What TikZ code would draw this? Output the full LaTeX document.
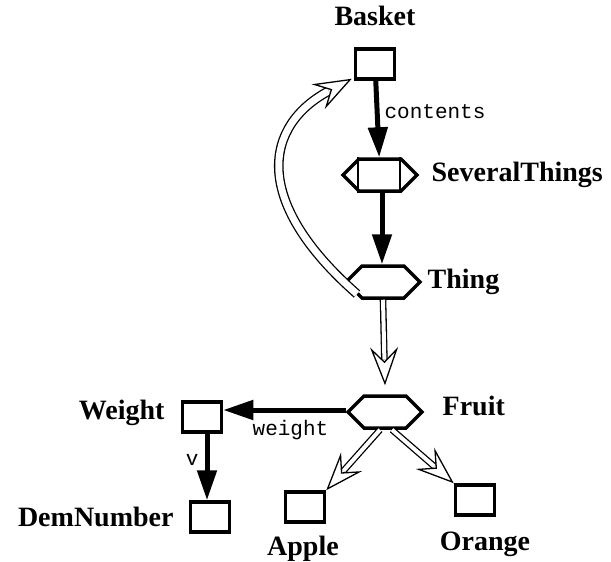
\documentclass[tikz,border=0pt]{standalone}
\usepackage{fontspec}
\setmainfont{Liberation Serif}
\setmonofont{Liberation Mono}
\usetikzlibrary{shapes.symbols, arrows.meta, positioning, calc}

\begin{document}
\begin{tikzpicture}[x=1pt, y=-1pt,
  cls/.style={rectangle, draw, line width=3.5pt, minimum width=39pt,
              minimum height=30pt, inner sep=0pt},
  hex/.style={signal, signal to=east and west, signal pointer angle=90, draw,
              line width=3.5pt, minimum width=74pt, minimum height=32pt, inner sep=0pt},
  lbl/.style={font=\fontsize{28}{30}\selectfont\bfseries, inner sep=0pt},
  role/.style={font=\fontsize{21}{22}\selectfont\ttfamily, inner sep=0pt},
  rel/.style={-{Triangle[length=30pt,width=19pt]}, line width=5pt},
  isa/.style={double, double distance=4pt, line width=1.3pt, shorten >=26pt},
  isatip/.style={-{Stealth[fill=white, length=38pt, width=28pt, inset=14pt]},
                 line width=1.3pt}
]
\useasboundingbox (0,0) rectangle (611,562);
\node[cls] (basket) at (375,64) {};
\node[hex] (several) at (380,175) {};
\node[hex] (thing) at (383,282) {};
\node[hex] (fruit) at (385,412) {};
\node[cls] (weight) at (202,417) {};
\node[cls] (demnum) at (210,517) {};
\node[cls] (apple) at (305,507) {};
\node[cls] (orange) at (475,500) {};
% inner bars of the collection
\draw[line width=1.3pt] ([xshift=-22pt]several.north) -- ([xshift=-22pt]several.south);
\draw[line width=1.3pt] ([xshift=20pt]several.north) -- ([xshift=20pt]several.south);

\node[lbl, above=21pt of basket] (basketl) {Basket};
\node[lbl, right=12pt of several] (severall) {SeveralThings};
\node[lbl, right=5pt of thing] (thingl) {Thing};
\node[lbl, right=18pt of fruit, yshift=6pt] (fruitl) {Fruit};
\node[lbl, left=16pt of weight, yshift=4pt] (weightl) {Weight};
\node[lbl, left=15pt of demnum] (demnuml) {DemNumber};
\node[lbl, below=12pt of apple, xshift=-2pt] (applel) {Apple};
\node[lbl, below=15pt of orange, xshift=10pt] (orangel) {Orange};

\draw[rel] (basket) -- node[role, right=5pt, pos=0.4] (contentsl) {contents} (several);
\draw[rel] ([xshift=2pt]several.south) -- ([xshift=-1pt]thing.north);
\draw[rel] ([yshift=2pt]fruit.west) -- node[role, below=8pt, pos=0.45] (weightr) {weight} ([yshift=7pt]weight.east);
\draw[rel] ([xshift=5pt]weight.south) -- node[role, left=6pt, pos=0.4] (vl) {v} ([xshift=-3pt]demnum.north);

% specialisation links: double shaft, then the open head on top
\coordinate (fruittop) at ([yshift=9pt]fruit.north);
\coordinate (appleend) at (apple.north east);
\coordinate (orangeend) at (orange.north west);
\coordinate (fruitbl) at ([xshift=-5pt]fruit.south);
\coordinate (fruitbr) at ([xshift=7pt]fruit.south);
\coordinate (thingtl) at ([xshift=-26pt, yshift=-12pt]thing.center);
\coordinate (basketend) at ([xshift=-2pt, yshift=2pt]basket.south west);
\draw[isa] (thing.south) -- (fruittop);
\draw[isatip] ($(fruittop)!20pt!(thing.south)$) -- (fruittop);
\draw[isa] (fruitbl) -- (appleend);
\draw[isatip] ($(appleend)!20pt!(fruitbl)$) -- (appleend);
\draw[isa] (fruitbr) -- (orangeend);
\draw[isatip] ($(orangeend)!20pt!(fruitbr)$) -- (orangeend);
\draw[isa, double distance=7pt] (thingtl)
  .. controls (250,200) and (265,125) .. (basketend);
\draw[isatip] ($(basketend)!20pt!(265,125)$) -- (basketend);
\end{tikzpicture}
\end{document}
